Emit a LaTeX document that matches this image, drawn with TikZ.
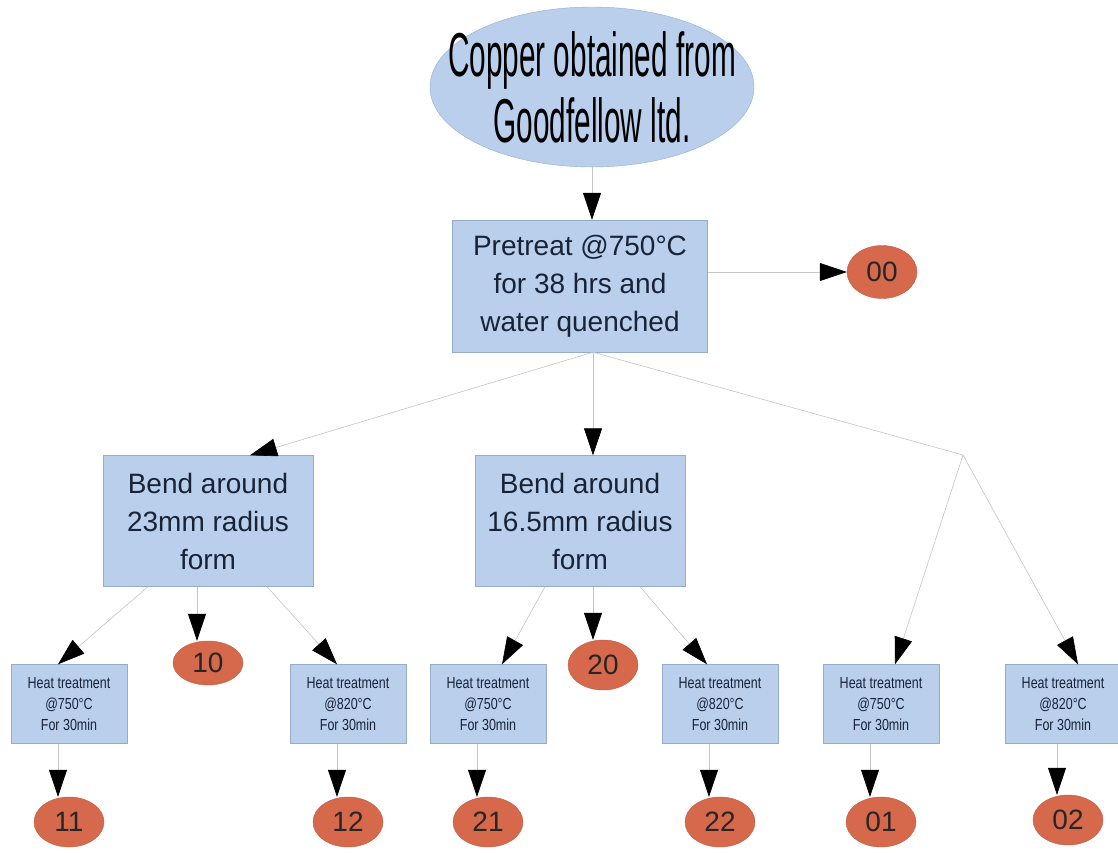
\documentclass[tikz,border=0pt]{standalone}
\usepackage{fontspec}
\setmainfont{Liberation Sans}
\newfontfamily\narrowfont[FakeStretch=0.48]{Liberation Sans}
\newfontfamily\heatfont[FakeStretch=0.78]{Liberation Sans}
\usetikzlibrary{positioning,shapes.geometric,arrows.meta}
\definecolor{boxblue}{RGB}{185,207,236}
\definecolor{boxedge}{RGB}{150,172,205}
\definecolor{rust}{RGB}{214,104,76}
\definecolor{rustedge}{RGB}{190,90,66}
\definecolor{inkblue}{RGB}{25,35,55}
\definecolor{wire}{RGB}{195,195,200}

\begin{document}
\begin{tikzpicture}[
        x=1pt,y=-1pt,on grid,
        source/.style={
          ellipse,draw=boxedge,fill=boxblue,inner xsep=-30pt,inner ysep=-12pt,
          align=center,minimum width=324pt,minimum height=160pt,
          font=\narrowfont\fontsize{62}{66}\selectfont},
        process/.style={
          draw=boxedge,fill=boxblue,inner sep=0pt,align=center,text=inkblue,
          font=\fontsize{28}{38}\selectfont},
        heat/.style={
          process,minimum width=116pt,minimum height=79pt,
          font=\heatfont\fontsize{16}{21}\selectfont},
        sample/.style={
          ellipse,draw=rustedge,fill=rust,inner sep=0pt,text=black!85,
          minimum width=70pt,minimum height=50pt,font=\fontsize{28}{30}\selectfont},
        arr/.style={draw=wire,line width=0.6pt,
          -{Triangle[length=27pt,width=18pt,color=black]}}]
      \useasboundingbox (0,0) rectangle (1118,852);
      \node[source] (copper) at (592,87) {Copper obtained from\\Goodfellow ltd.};
      \node[process, minimum width=255pt, minimum height=132pt,
            below left=199pt and 12pt of copper] (pre)
            {Pretreat @750°C\\for 38 hrs and\\water quenched};
      \node[sample, minimum height=53pt, above right=14pt and 302pt of pre] (r00) {00};
      \node[process, minimum width=210pt, minimum height=131pt,
            below=235pt of pre] (bend2) {Bend around\\16.5mm radius\\form};
      \node[process, minimum width=210pt, minimum height=131pt,
            left=372pt of bend2] (bend1) {Bend around\\23mm radius\\form};
      \node[sample, minimum height=44pt, below=142pt of bend1] (r10) {10};
      \node[sample, below right=144pt and 23pt of bend2] (r20) {20};
      \node[heat, below left=183pt and 139pt of bend1] (h11) {Heat treatment\\@750°C\\For 30min};
      \node[heat, below right=183pt and 140pt of bend1] (h12) {Heat treatment\\@820°C\\For 30min};
      \node[heat, below left=183pt and 92pt of bend2] (h21) {Heat treatment\\@750°C\\For 30min};
      \node[heat, below right=183pt and 140pt of bend2] (h22) {Heat treatment\\@820°C\\For 30min};
      \node[heat, right=161pt of h22] (h01) {Heat treatment\\@750°C\\For 30min};
      \node[heat, right=182pt of h01] (h02) {Heat treatment\\@820°C\\For 30min};
      \foreach \n in {11,12,21,22,01}
        \node[sample, below=118pt of h\n] (r\n) {\n};
      \node[sample, below right=116pt and 5pt of h02] (r02) {02};
      \coordinate (fork) at (963,455);
      % top of the tree
      \draw[arr] (copper.south) -- (copper.south |- pre.north);
      \draw[arr] (pre.east |- r00.west) -- (r00.west);
      \draw[arr] ([xshift=13pt]pre.south) -- ([xshift=42pt]bend1.north);
      \draw[arr] ([xshift=13pt]pre.south) -- ([xshift=13pt]bend2.north);
      \draw[wire,line width=0.6pt] ([xshift=13pt]pre.south) -- (fork);
      \draw[arr] (fork) -- ([xshift=14pt]h01.north);
      \draw[arr] (fork) -- ([xshift=15pt]h02.north);
      % bends
      \draw[arr] ([xshift=-60pt]bend1.south) -- ([xshift=-11pt]h11.north);
      \draw[arr] ([xshift=-11pt]bend1.south) -- ([xshift=-11pt]r10.north);
      \draw[arr] ([xshift=59pt]bend1.south) -- ([xshift=-11pt]h12.north);
      \draw[arr] ([xshift=-35pt]bend2.south) -- ([xshift=14pt]h21.north);
      \draw[arr] ([xshift=13pt]bend2.south) -- ([xshift=-10pt]r20.north);
      \draw[arr] ([xshift=60pt]bend2.south) -- ([xshift=-13pt]h22.north);
      % heat treatments
      \foreach \n in {11,12,21,22,01,02}
        \draw[arr] ([xshift=-11pt]r\n.north |- h\n.south) -- ([xshift=-11pt]r\n.north);
    \end{tikzpicture}
\end{document}
